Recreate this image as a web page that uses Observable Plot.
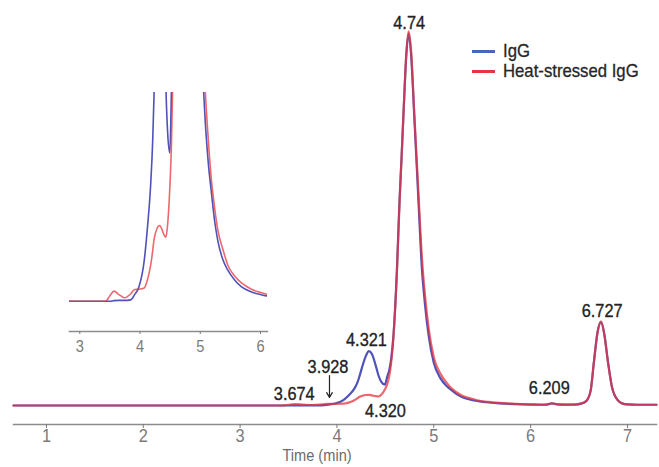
<!DOCTYPE html>
<html>
<head>
<meta charset="utf-8">
<script src="https://cdn.jsdelivr.net/npm/d3@7"></script>
<script src="https://cdn.jsdelivr.net/npm/@observablehq/plot@0.6"></script>
<style>
  html, body { margin: 0; padding: 0; background: #fff; }
  #wrap { position: relative; width: 659px; height: 467px; overflow: hidden; }
  #wrap svg { position: absolute; left: 0; top: 0; }
  #legend { position: absolute; left: 472px; top: 41px; font-family: "Liberation Sans", Arial, sans-serif; font-size: 19px; color: #262626; -webkit-text-stroke: 0.3px #262626; }
  .item { display: flex; align-items: center; height: 20px; white-space: nowrap; }
  .sw { width: 23px; height: 3px; margin-right: 8px; flex: none; }
  .lt { display: inline-block; transform: scaleX(0.88); transform-origin: left center; }
</style>
</head>
<body>
<div id="wrap">
  <div id="legend">
    <div class="item"><span class="sw" id="sw0"></span><span class="lt" id="lg0"></span></div>
    <div class="item"><span class="sw" id="sw1"></span><span class="lt" id="lg1"></span></div>
  </div>
</div>
<script>
// ---- data ----
const seriesNames = ["IgG", "Heat-stressed IgG"];
const time = [0.66, 1.0, 1.5, 2.0, 2.5, 3.0, 3.3, 3.43, 3.50, 3.567, 3.65, 3.745, 3.845, 3.91, 3.98, 4.07, 4.12, 4.18, 4.21, 4.23, 4.26, 4.30, 4.33, 4.36, 4.40, 4.43, 4.46, 4.495, 4.52, 4.54, 4.56, 4.585, 4.62, 4.646, 4.668, 4.69, 4.716, 4.74, 4.764, 4.80, 4.84, 4.877, 4.91, 4.946, 5.00, 5.07, 5.13, 5.18, 5.24, 5.29, 5.37, 5.46, 5.57, 5.68, 5.85, 6.0, 6.12, 6.17, 6.22, 6.27, 6.35, 6.45, 6.52, 6.578, 6.62, 6.653, 6.69, 6.727, 6.76, 6.80, 6.84, 6.904, 6.95, 7.0, 7.1, 7.3];
const igg = [0, 0, 0, 0, 0, 0, 0, 0, 0, 0.02, 0.03, 0.03, 0.05, 0.25, 0.53, 1.54, 2.7, 4.55, 6.06, 7.6, 10.3, 13.4, 14.6, 13.9, 10.8, 8.0, 6.3, 5.6, 7.8, 9.5, 12.5, 19.3, 37, 55, 67, 80, 94, 100, 95, 77, 56, 37, 27, 19, 11.5, 7.3, 5.3, 4.2, 3.0, 2.3, 1.6, 1.16, 0.8, 0.55, 0.35, 0.25, 0.2, 0.25, 0.55, 0.3, 0.22, 0.25, 0.5, 1.3, 4.0, 11.5, 19.5, 22.4, 19.3, 11.5, 5.0, 1.3, 0.5, 0.3, 0.2, 0.2];
const heatStressed = [0, 0, 0, 0, 0, 0, 0, 0, 0.21, 0.38, 0.25, 0.13, 0.28, 0.44, 0.45, 0.5, 0.78, 1.41, 1.9, 2.29, 2.6, 2.82, 2.86, 2.73, 2.5, 2.42, 2.95, 4.3, 5.8, 7.9, 11.5, 19, 36, 54, 67, 80, 94.5, 100.6, 96, 78, 58, 40, 29.5, 21, 13, 8.5, 6.2, 4.7, 3.5, 2.7, 2.0, 1.35, 0.95, 0.7, 0.45, 0.33, 0.26, 0.3, 0.6, 0.35, 0.25, 0.27, 0.5, 1.3, 4.0, 11.5, 19.5, 22.6, 19.3, 11.5, 5.0, 1.3, 0.5, 0.3, 0.2, 0.2];
const xTicks = [1, 2, 3, 4, 5, 6, 7];
const insetTicks = [3, 4, 5, 6];
const peakLabels = ["4.74", "4.321", "3.928", "3.674", "4.320", "6.209", "6.727"];
const peakLabelTime = [4.746, 4.305, 3.908, 3.559, 4.501, 6.193, 6.739];
const peakLabelValue = [101.3, 15.9, 8.7, 1.6, -3.1, 3.2, 23.7];
const arrowTime = [3.923];
const arrowFrom = [8.06];
const arrowTo = [2.15];
const xLabel = "Time (min)";

// ---- build ----
const blue = "#3b3fb2", red = "#e8343c";
const font = '"Liberation Sans", Arial, sans-serif';
const rows = time.map((t, i) => ({time: t, igg: igg[i], heat: heatStressed[i]}));

const main = Plot.plot({
  width: 659, height: 467,
  marginLeft: 13, marginRight: 3, marginTop: 20, marginBottom: 43,
  x: {domain: [0.66, 7.3]},
  y: {domain: [0, 100], range: [405, 33], axis: null},
  style: {fontFamily: font, background: "transparent", overflow: "visible"},
  marks: [
    Plot.frame({anchor: "bottom", stroke: "#8c8c8c", strokeWidth: 1.5}),
    Plot.axisX({ticks: xTicks, tickFormat: d => String(d), tickSize: 4, tickPadding: 0, fontSize: 19, color: "#7a7a7a", label: null}),
    Plot.text([xLabel], {frameAnchor: "bottom", text: d => d, dx: -18, dy: 36.6, fontSize: 17, fill: "#6c6c6c"}),
    Plot.line(rows, {x: "time", y: "igg", stroke: blue, strokeWidth: 2.2, strokeOpacity: 0.9, curve: "monotone-x"}),
    Plot.line(rows, {x: "time", y: "heat", stroke: red, strokeWidth: 2.2, strokeOpacity: 0.75, curve: "monotone-x"}),
    Plot.text(peakLabels, {x: (d, i) => peakLabelTime[i], y: (d, i) => peakLabelValue[i], text: d => d, lineAnchor: "bottom", fontSize: 19, fill: "#222", stroke: "#222", strokeWidth: 0.35}),
    Plot.arrow(arrowTime, {x1: d => d, x2: d => d, y1: (d, i) => arrowFrom[i], y2: (d, i) => arrowTo[i], stroke: "#222", strokeWidth: 1.2, headLength: 7, bend: 0})
  ]
});

const inset = Plot.plot({
  width: 659, height: 467,
  marginLeft: 69, marginRight: 392, marginTop: 92, marginBottom: 136,
  x: {domain: [2.829, 6.116]},
  y: {domain: [0, 7.88], range: [300.7, 92], axis: null},
  style: {fontFamily: font, background: "transparent", overflow: "visible"},
  marks: [
    Plot.frame({anchor: "bottom", stroke: "#8c8c8c", strokeWidth: 1.5}),
    Plot.axisX({ticks: insetTicks, tickFormat: d => String(d), tickSize: 3, tickPadding: 5, fontSize: 17, color: "#7a7a7a", label: null}),
    Plot.line(rows, {x: "time", y: "igg", stroke: blue, strokeWidth: 1.6, strokeOpacity: 0.9, curve: "monotone-x", clip: true}),
    Plot.line(rows, {x: "time", y: "heat", stroke: red, strokeWidth: 1.6, strokeOpacity: 0.75, curve: "monotone-x", clip: true})
  ]
});

// condensed look: squeeze every text horizontally around its own anchor
function condense(svg, s) {
  svg.querySelectorAll("text").forEach(el => {
    const x = +el.getAttribute("x") || 0, y = +el.getAttribute("y") || 0;
    const t = el.getAttribute("transform") || "";
    el.setAttribute("transform", `${t} translate(${x},${y}) scale(${s},1) translate(${-x},${-y})`.trim());
  });
}
condense(main, 0.86);
condense(inset, 0.86);

const wrap = document.getElementById("wrap");
wrap.insertBefore(main, wrap.firstChild);
wrap.insertBefore(inset, document.getElementById("legend"));
document.getElementById("sw0").style.background = "#4a62c0";
document.getElementById("sw1").style.background = red;
document.getElementById("lg0").textContent = seriesNames[0];
document.getElementById("lg1").textContent = seriesNames[1];
</script>
</body>
</html>
